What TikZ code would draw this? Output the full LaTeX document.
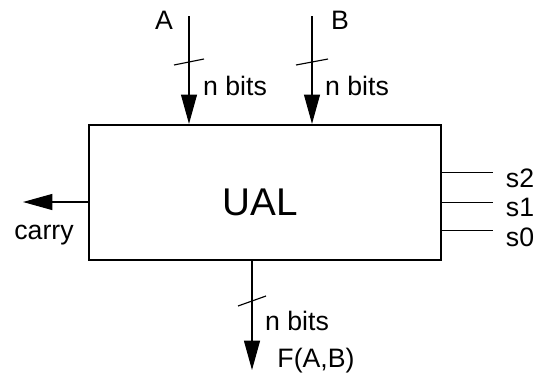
\documentclass[tikz,border=0pt]{standalone}
\usepackage{fontspec}
\setmainfont{Liberation Sans}
\usetikzlibrary{arrows.meta,positioning}
\tikzset{
  block/.style={draw, line width=1.7pt, minimum width=264pt, minimum height=101.25pt, inner sep=0pt},
  blockname/.style={font=\fontsize{29}{34}\selectfont, inner sep=0pt},
  lbl/.style={font=\fontsize{20}{24}\selectfont, inner sep=0pt},
  bus/.style={-{Triangle[length=22pt,width=12pt]}, line width=0.85pt},
  wire/.style={line width=0.85pt},
  buswidth/.style={line width=0.85pt}
}
\begin{document}
\begin{tikzpicture}[x=0.75pt,y=-0.75pt]
  \useasboundingbox (0,0) rectangle (542,383);
  \node[block] (ual) at (265,192.5) {};
  \node[blockname] (ualname) at (260,202) {UAL};
  % inputs
  \coordinate (inA) at (189,16);
  \coordinate (inB) at (312,16);
  \node[lbl] (lblA) at (164,20) {A};
  \node[lbl] (lblB) at (340,20) {B};
  \draw[bus] (inA) -- (inA |- ual.north);
  \draw[bus] (inB) -- (inB |- ual.north);
  \node[lbl] (nA) at (235,86) {n bits};
  \node[lbl] (nB) at (357,86) {n bits};
  % output
  \coordinate (outF) at (252,370);
  \draw[bus] (outF |- ual.south) -- (outF);
  \node[lbl] (nF) at (297,321) {n bits};
  \node[lbl] (lblF) at (316,361) {F(A,B)};
  % bus width ticks
  \coordinate (tA) at (189,62);
  \coordinate (tB) at (312,62);
  \coordinate (tF) at (252,301);
  \foreach \t/\dx/\dy in {tA/15/3,tB/16/3,tF/14/5}
    \draw[buswidth] ([shift={(-\dx,\dy)}]\t) -- ([shift={(\dx,-\dy)}]\t);
  % carry
  \coordinate (carry) at (23,202);
  \draw[bus] (ual.west |- carry) -- (carry);
  \node[lbl] (lblcarry) at (44,235) {carry};
  % selection lines
  \foreach \s/\y/\ty in {2/172.7/178,1/202.7/207,0/230.7/237}{
    \coordinate (sel\s) at (493,\y);
    \draw[wire] (ual.east |- sel\s) -- (sel\s);
    \node[lbl] (lbls\s) at (520,\ty) {s\s};
  }
\end{tikzpicture}
\end{document}
